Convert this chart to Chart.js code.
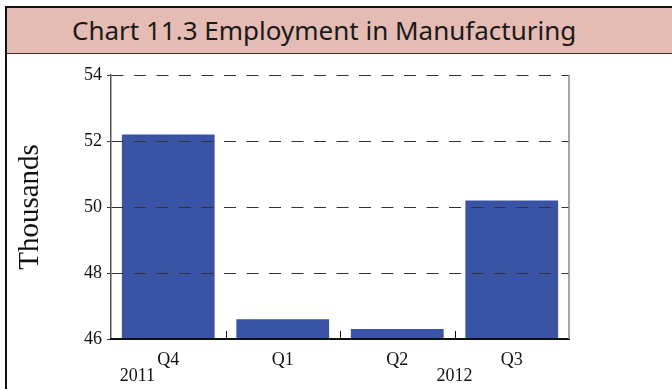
<!DOCTYPE html>
<html>
<head>
<meta charset="utf-8">
<script src="https://cdn.jsdelivr.net/npm/chart.js@4"></script>
<style>
  html, body { margin: 0; padding: 0; background: #fff; }
  #frame { position: absolute; left: 5px; top: 6px; right: 0; bottom: 0; border-left: 2px solid #111; border-top: 2px solid #111; }
  #title { height: 45px; background: #e4bcb4; border-bottom: 1.5px solid #3a2a28; font-family: "Noto Sans", sans-serif; font-size: 26px; color: #1a1a1a; line-height: 45px; padding-left: 65px; }
  #wrap { position: absolute; left: 0; top: 47px; width: 665px; height: 335px; }
</style>
</head>
<body>
<div id="frame">
  <div id="title">Chart 11.3 Employment in Manufacturing</div>
  <div id="wrap"><canvas id="myChart"></canvas></div>
</div>
<script>
var quarters = ['Q4', 'Q1', 'Q2', 'Q3'];
var employment = [52.2, 46.6, 46.3, 50.2];
var yearLabels = ['2011', '2012'];
var yearAt = [-0.27, 2.5];

var extras = {
    id: 'extras',
    afterDraw: function(chart) {
        var c = chart.ctx, a = chart.chartArea, x = chart.scales.x;
        c.save();
        // right frame line
        c.strokeStyle = '#888';
        c.lineWidth = 1.5;
        c.beginPath();
        c.moveTo(a.right, a.top);
        c.lineTo(a.right, a.bottom);
        c.stroke();
        // inner tick marks between categories
        c.strokeStyle = '#111';
        c.lineWidth = 1;
        for (var i = 0; i < quarters.length - 1; i++) {
            var px = Math.round((x.getPixelForValue(i) + x.getPixelForValue(i + 1)) / 2) + 0.5;
            c.beginPath();
            c.moveTo(px, a.bottom);
            c.lineTo(px, a.bottom - 8);
            c.stroke();
        }
        // year labels
        c.fillStyle = '#111';
        c.font = '18px "Liberation Serif", serif';
        c.textAlign = 'center';
        c.textBaseline = 'middle';
        for (var j = 0; j < yearLabels.length; j++) {
            var x0 = x.getPixelForValue(0), x1 = x.getPixelForValue(1);
            c.fillText(yearLabels[j], x0 + (x1 - x0) * yearAt[j], a.bottom + 37);
        }
        c.restore();
    }
};

var ctx = document.getElementById('myChart');
var chart = new Chart(ctx, {
    type: 'bar',
    data: {
        labels: quarters,
        datasets: [
            {
                data: employment,
                backgroundColor: '#3953a5',
                borderWidth: 0,
                barPercentage: 0.81,
                categoryPercentage: 1
            }
        ]
    },
    options: {
        responsive: true,
        maintainAspectRatio: false,
        animation: false,
        layout: { padding: { top: 20, right: 103, left: 0, bottom: 0 } },
        plugins: { legend: { display: false }, tooltip: { enabled: false } },
        scales: {
            x: {
                afterFit: function(s) { s.height = 51; },
                grid: { display: false },
                border: { display: true, color: '#111', width: 2, z: 2 },
                ticks: { color: '#111', padding: 2, font: { family: '"Liberation Serif", serif', size: 18 } }
            },
            y: {
                min: 46,
                max: 54,
                afterFit: function(s) { s.width = 104; },
                ticks: { stepSize: 2, color: '#111', padding: 5, font: { family: '"Liberation Serif", serif', size: 18 } },
                grid: { color: '#333', lineWidth: 1, drawTicks: true, tickLength: 4, z: 1 },
                border: { display: true, color: '#555', width: 1.5, dash: [12, 10.5], dashOffset: 0, z: 1 },
                title: {
                    display: true,
                    text: 'Thousands',
                    color: '#111',
                    padding: { top: 6, bottom: 0 },
                    font: { family: '"Liberation Serif", serif', size: 29 }
                }
            }
        }
    },
    plugins: [extras]
});
</script>
</body>
</html>
